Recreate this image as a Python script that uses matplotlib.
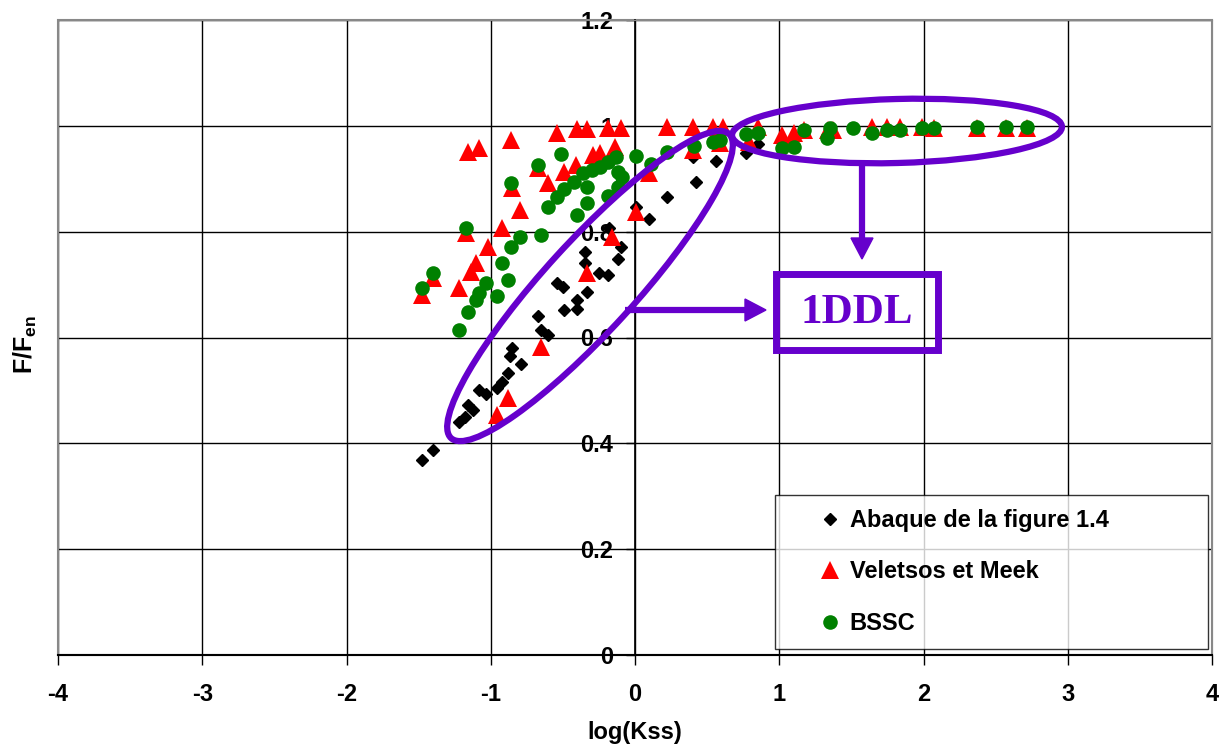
import numpy as np
import matplotlib
matplotlib.use('Agg')
import matplotlib.pyplot as plt
from matplotlib.patches import Ellipse, Rectangle, Polygon

plt.rcParams['font.family'] = ['Liberation Sans', 'DejaVu Sans']
plt.rcParams['font.weight'] = 'bold'
plt.rcParams['mathtext.fontset'] = 'custom'
plt.rcParams['mathtext.bf'] = 'Liberation Sans:bold'
plt.rcParams['mathtext.rm'] = 'Liberation Sans'

# Abaque de la figure 1.4
abaque_x = [-1.48, -1.40, -1.22, -1.18, -1.16, -1.12, -1.08, -1.03, -0.96, -0.92,
            -0.88, -0.79, -0.87, -0.85, -0.67, -0.65, -0.60, -0.54, -0.50, -0.49,
            -0.40, -0.40, -0.33, -0.35, -0.35, -0.25, -0.19, -0.12, -0.10, -0.18,
            0.01, 0.10, 0.22, 0.40, 0.42, 0.56, 0.77, 0.85]
abaque_y = [0.369, 0.388, 0.440, 0.450, 0.473, 0.463, 0.501, 0.493, 0.505, 0.516,
            0.533, 0.550, 0.565, 0.580, 0.641, 0.614, 0.605, 0.703, 0.696, 0.652,
            0.671, 0.654, 0.686, 0.741, 0.762, 0.722, 0.718, 0.749, 0.771, 0.807,
            0.847, 0.824, 0.866, 0.941, 0.894, 0.934, 0.949, 0.966]

# Veletsos et Meek
vm_x = [-1.48, -1.40, -1.22, -1.16, -1.08, -1.14, -1.10, -1.17, -1.02, -0.92,
        -0.85, -0.86, -0.80, -0.67, -0.60, -0.54, -0.49, -0.41, -0.40, -0.33,
        -0.29, -0.24, -0.19, -0.14, -0.10, 0.01, -0.16, -0.33, -0.65, -0.88,
        -0.96, 0.10, 0.22, 0.40, 0.40, 0.54, 0.61, 0.59, 0.79, 0.85,
        1.02, 1.10, 1.17, 1.34, 1.37, 1.64, 1.75, 1.84, 1.99, 2.07,
        2.37, 2.57, 2.72]
vm_y = [0.681, 0.713, 0.694, 0.951, 0.958, 0.724, 0.741, 0.798, 0.771, 0.807,
        0.883, 0.974, 0.841, 0.921, 0.892, 0.987, 0.913, 0.926, 0.994, 0.994,
        0.945, 0.949, 0.996, 0.960, 0.996, 0.837, 0.790, 0.722, 0.582, 0.486,
        0.454, 0.911, 0.998, 0.998, 0.955, 0.998, 0.998, 0.968, 0.970, 0.998,
        0.983, 0.987, 0.992, 0.992, 0.992, 0.998, 0.998, 0.998, 0.998, 0.996,
        0.996, 0.996, 0.996]

# BSSC
bssc_x = [-1.48, -1.40, -1.22, -1.17, -1.16, -1.10, -1.08, -1.03, -0.96, -0.92,
          -0.88, -0.86, -0.80, -0.65, -0.86, -0.67, -0.60, -0.54, -0.49, -0.42,
          -0.36, -0.51, -0.30, -0.24, -0.19, -0.13, -0.12, -0.09, -0.12, -0.19,
          -0.33, -0.40, -0.33, 0.01, 0.11, 0.22, 0.41, 0.54, 0.59, 0.77,
          0.85, 1.02, 1.10, 1.17, 1.33, 1.35, 1.51, 1.64, 1.75, 1.84,
          1.99, 2.07, 2.37, 2.57, 2.72]
bssc_y = [0.694, 0.722, 0.614, 0.807, 0.648, 0.671, 0.684, 0.703, 0.679, 0.741,
          0.709, 0.771, 0.790, 0.794, 0.892, 0.926, 0.847, 0.866, 0.881, 0.894,
          0.911, 0.947, 0.917, 0.922, 0.932, 0.941, 0.913, 0.904, 0.885, 0.868,
          0.854, 0.832, 0.885, 0.943, 0.928, 0.951, 0.962, 0.970, 0.974, 0.985,
          0.987, 0.958, 0.960, 0.992, 0.977, 0.996, 0.996, 0.987, 0.992, 0.992,
          0.996, 0.996, 0.998, 0.998, 0.998]

series_labels = ['Abaque de la figure 1.4', 'Veletsos et Meek', 'BSSC']
purple = '#6600CC'

fig = plt.figure(figsize=(12.28, 7.53), dpi=100)
ax = fig.add_axes([58/1228, 1-655/753, (1212-58)/1228, (655-20)/753])

ax.plot(abaque_x, abaque_y, 'D', color='black', markersize=6.5, label=series_labels[0], zorder=3)
ax.plot(vm_x, vm_y, '^', color='#FF0000', markersize=13.5, markeredgewidth=0, label=series_labels[1], zorder=4)
ax.plot(bssc_x, bssc_y, 'o', color='#008000', markersize=10.5, markeredgewidth=0, label=series_labels[2], zorder=5)

ax.set_xlim(-4, 4)
ax.set_ylim(0, 1.2)
ax.set_xticks(np.arange(-4, 5, 1))
ax.set_yticks(np.arange(0, 1.21, 0.2))
ax.set_xticklabels(['-4', '-3', '-2', '-1', '0', '1', '2', '3', '4'])
ax.set_yticklabels(['0', '0.2', '0.4', '0.6', '0.8', '1', '1.2'])
ax.grid(True, color='black', linewidth=1.0)
ax.set_axisbelow(True)

ax.spines['left'].set_position(('data', 0))
ax.spines['left'].set_linewidth(1.2)
ax.spines['bottom'].set_linewidth(1.5)
for s in ['top', 'right']:
    ax.spines[s].set_color('#888888')
ax.add_patch(Rectangle((0, 0), 1, 1, transform=ax.transAxes, fill=False,
                       edgecolor='#888888', linewidth=1.5, zorder=1, clip_on=False))

ax.tick_params(axis='y', direction='out', length=6.5, width=1, pad=9, labelsize=17)
ax.tick_params(axis='x', direction='out', length=7, width=1, pad=13, labelsize=17)
for lbl in ax.get_xticklabels() + ax.get_yticklabels():
    lbl.set_fontweight('bold')

fig.text(635/1228, 1-733/753, 'log(Kss)', ha='center', va='center', fontsize=17, fontweight='bold')
fig.text(25/1228, 1-345/753, r'$\mathbf{F/F_{en}}$', ha='center', va='center',
         rotation=90, fontsize=18)

leg = ax.legend(loc='upper left',
                bbox_to_anchor=(775/1228, 1-650/753, (1208-775)/1228, (650-495)/753),
                bbox_transform=fig.transFigure, mode='expand', borderaxespad=0,
                fontsize=17, frameon=True, fancybox=False, edgecolor='black',
                labelspacing=1.2, handletextpad=-0.9, handlelength=3.47,
                borderpad=0.6, markerscale=1.0)
leg.get_frame().set_linewidth(1.0)
for t in leg.get_texts():
    t.set_fontweight('bold')
leg.set_zorder(10)

# annotations in pixel space
ov = fig.add_axes([0, 0, 1, 1], facecolor='none')
ov.set_xlim(0, 1228)
ov.set_ylim(753, 0)
ov.axis('off')

ov.add_patch(Ellipse((590, 286), 412, 90, angle=-47.6, fill=False, edgecolor=purple, linewidth=4.5))
ov.add_patch(Ellipse((897, 131), 330, 64, angle=-1.5, fill=False, edgecolor=purple, linewidth=4.5))

ov.plot([862, 862], [164, 242], color=purple, linewidth=4.5, solid_capstyle='butt')
ov.add_patch(Polygon([[851, 238], [873, 238], [862, 259]], closed=True, color=purple))
ov.plot([625, 748], [310, 310], color=purple, linewidth=4.5, solid_capstyle='butt')
ov.add_patch(Polygon([[745, 299], [745, 321], [766, 310]], closed=True, color=purple))

ov.add_patch(Rectangle((776, 274), 162, 76, fill=False, edgecolor=purple, linewidth=5))
ov.text(857, 313, '1DDL', ha='center', va='center', color=purple, fontsize=31,
        fontweight='bold', family=['Liberation Serif', 'DejaVu Serif'])

fig.savefig('out.png', dpi=100)
